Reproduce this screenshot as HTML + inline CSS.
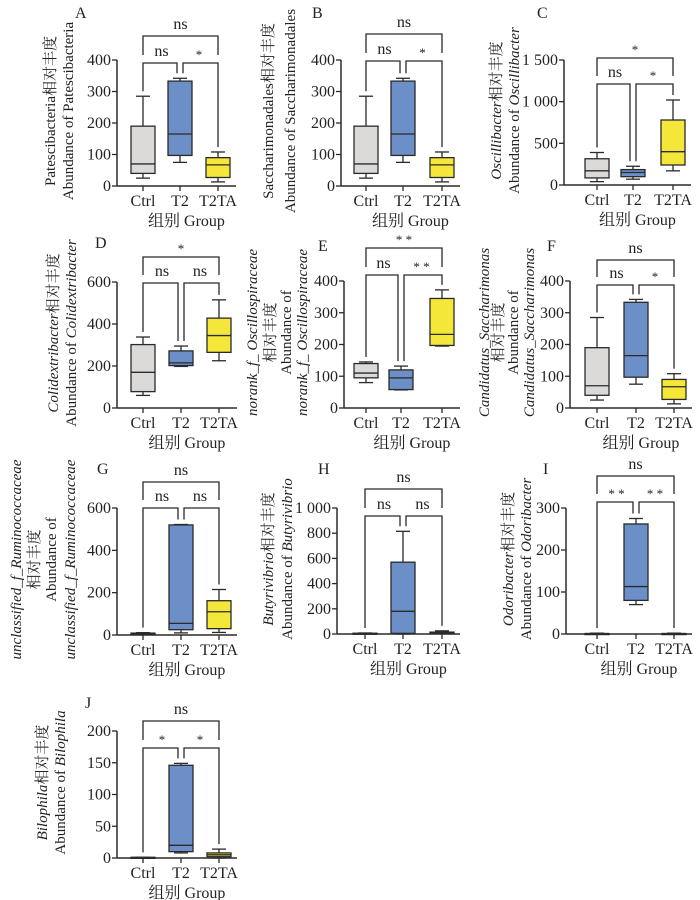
<!DOCTYPE html>
<html><head><meta charset="utf-8">
<style>
html,body{margin:0;padding:0;background:#fff;}
svg{display:block;font-family:"Liberation Serif","Noto Serif CJK SC","Noto Sans CJK SC",serif;}
</style></head>
<body>
<svg id="fig" width="700" height="900" viewBox="0 0 700 900" xmlns="http://www.w3.org/2000/svg"></svg>
<script>
const groups = ["Ctrl","T2","T2TA"];
const fills = ["#dcdad9","#6b8fc6","#f5e63a"];
// box stats: [min,q1,median,q3,max] for Ctrl, T2, T2TA
const statsA = [[25,40,70,190,285],[75,97,165,333,342],[13,27,67,90,108]];
const statsB = [[25,40,70,190,285],[75,97,165,333,342],[13,27,67,90,108]];
const statsC = [[40,85,170,315,390],[70,100,150,185,225],[170,240,400,780,1020]];
const statsD = [[60,78,170,302,338],[198,202,215,272,295],[225,265,345,428,515]];
const statsE = [[80,95,110,140,145],[57,58,95,120,132],[195,197,232,345,372]];
const statsF = [[25,40,70,190,285],[75,97,165,333,342],[13,27,67,90,108]];
const statsG = [[3,5,7,9,11],[10,25,55,520,522],[12,30,110,162,215]];
const statsH = [[0,2,4,6,8],[0,5,180,570,815],[2,5,10,15,25]];
const statsI = [[0,0,1,1,2],[70,80,113,262,275],[0,0,1,1,2]];
const statsJ = [[0,0,1,1,1],[8,10,20,146,149],[0,2,5,8,14]];
const ticks400 = [0,100,200,300,400];
const ticks1500 = [0,500,1000,1500];
const ticks600 = [0,200,400,600];
const ticks1000 = [0,200,400,600,800,1000];
const ticks300 = [0,100,200,300];
const ticks200 = [0,50,100,150,200];
// significance: [Ctrl-T2TA, Ctrl-T2, T2-T2TA]
const sigA=["ns","ns","*"], sigB=["ns","ns","*"], sigC=["*","ns","*"], sigD=["*","ns","ns"], sigE=["* *","ns","* *"];
const sigF=["ns","ns","*"], sigG=["ns","ns","ns"], sigH=["ns","ns","ns"], sigI=["ns","* *","* *"], sigJ=["ns","*","*"];

const panels = [
 {id:"A",lx:75,ly:12,ax:117,top:60,bot:186,cx:[143,180,218],ticks:ticks400,stats:statsA,sig:sigA,ub:36,lb:63,
  yl:[[["Patescibacteria相对丰度",0]],[["Abundance of Patescibacteria",0]]],ylx:[50,68]},
 {id:"B",lx:312,ly:12,ax:341,top:60,bot:186,cx:[366,403,442],ticks:ticks400,stats:statsB,sig:sigB,ub:34,lb:61,
  yl:[[["Saccharimonadales相对丰度",0]],[["Abundance of Saccharimonadales",0]]],ylx:[268,290]},
 {id:"C",lx:537,ly:12,ax:564,top:60,bot:185,cx:[597,633,673],ticks:ticks1500,stats:statsC,sig:sigC,ub:58,lb:84,
  yl:[[["Oscillibacter",1],["相对丰度",0]],[["Abundance of ",0],["Oscillibacter",1]]],ylx:[496,514]},
 {id:"D",lx:95,ly:242,ax:117,top:282,bot:408,cx:[143,181,219],ticks:ticks600,stats:statsD,sig:sigD,ub:257,lb:283,
  yl:[[["Colidextribacter",1],["相对丰度",0]],[["Abundance of ",0],["Colidextribacter",1]]],ylx:[53,71]},
 {id:"E",lx:318,ly:245,ax:344,top:281,bot:408,cx:[366,401,442],ticks:ticks400,stats:statsE,sig:sigE,ub:248,lb:275,
  yl:[[["norank_f_ Oscillospiraceae",1]],[["相对丰度",0]],[["Abundance of",0]],[["norank_f_ Oscillospiraceae",1]]],ylx:[252,270,286,302]},
 {id:"F",lx:547,ly:245,ax:570,top:281,bot:408,cx:[597,636,674],ticks:ticks400,stats:statsF,sig:sigF,ub:260,lb:285,
  yl:[[["Candidatus_Saccharimonas",1]],[["相对丰度",0]],[["Abundance of",0]],[["Candidatus_Saccharimonas",1]]],ylx:[484,498,513,529]},
 {id:"G",lx:97,ly:468,ax:117,top:508,bot:635,cx:[143,181,219],ticks:ticks600,stats:statsG,sig:sigG,ub:482,lb:508,
  yl:[[["unclassified_f_Ruminococcaceae",1]],[["相对丰度",0]],[["Abundance of",0]],[["unclassified_f_Ruminococcaceae",1]]],ylx:[16,34,51,70]},
 {id:"H",lx:318,ly:468,ax:337,top:508,bot:634,cx:[365,403,442],ticks:ticks1000,stats:statsH,sig:sigH,ub:489,lb:516,
  yl:[[["Butyrivibrio",1],["相对丰度",0]],[["Abundance of ",0],["Butyrivibrio",1]]],ylx:[268,287]},
 {id:"I",lx:543,ly:468,ax:566,top:508,bot:634,cx:[597,636,674],ticks:ticks300,stats:statsI,sig:sigI,ub:476,lb:502,
  yl:[[["Odoribacter",1],["相对丰度",0]],[["Abundance of ",0],["Odoribacter",1]]],ylx:[508,526]},
 {id:"J",lx:85,ly:702,ax:117,top:731,bot:858,cx:[143,181,219],ticks:ticks200,stats:statsJ,sig:sigJ,ub:721,lb:748,
  yl:[[["Bilophila",1],["相对丰度",0]],[["Abundance of ",0],["Bilophila",1]]],ylx:[42,60]}
];

const NS="http://www.w3.org/2000/svg";
const svg=document.getElementById("fig");
function mk(tag,attrs,parent){const e=document.createElementNS(NS,tag);for(const k in attrs)e.setAttribute(k,attrs[k]);(parent||svg).appendChild(e);return e;}
function fmt(v){return v>=1000?String(v).replace(/(\d)(\d{3})$/,"$1 $2"):String(v);}
const STK="#2a2a2a";

panels.forEach(p=>{
  const g=mk("g",{});
  
  
  const ymax=p.ticks[p.ticks.length-1];
  const y=v=>p.bot-(v/ymax)*(p.bot-p.top);
  const xend=p.cx[2]+18;
  const L=mk("text",{x:p.lx,y:p.ly+6,"font-size":16,fill:"#222"},g);L.textContent=p.id;
  
  
  const ya=mk("line",{x1:p.ax,y1:p.top,x2:p.ax,y2:p.bot,stroke:STK,"stroke-width":1.5},g);
  
  
  const xa=mk("line",{x1:p.ax,y1:p.bot,x2:xend,y2:p.bot,stroke:STK,"stroke-width":1.5},g);
  
  
  p.ticks.forEach(t=>{
    mk("line",{x1:p.ax-5,y1:y(t),x2:p.ax,y2:y(t),stroke:STK,"stroke-width":1.3},g);
    const tt=mk("text",{x:p.ax-6,y:y(t)+5,"font-size":16,"text-anchor":"end",fill:"#222"},g);
    tt.textContent=fmt(t);
    
    
  });
  groups.forEach((gn,i)=>{
    const cx=p.cx[i];
    mk("line",{x1:cx,y1:p.bot,x2:cx,y2:p.bot+5,stroke:STK,"stroke-width":1.3},g);
    const xt=mk("text",{x:cx,y:p.bot+20,"font-size":16,"text-anchor":"middle",fill:"#222"},g);
    xt.textContent=gn;
    
    
    const s=p.stats[i];const w=24,cw=7;
    const bg=mk("g",{},g);
    
    
    mk("line",{x1:cx,y1:y(s[0]),x2:cx,y2:y(s[4]),stroke:STK,"stroke-width":1.3},bg);
    mk("line",{x1:cx-cw,y1:y(s[0]),x2:cx+cw,y2:y(s[0]),stroke:STK,"stroke-width":1.3},bg);
    mk("line",{x1:cx-cw,y1:y(s[4]),x2:cx+cw,y2:y(s[4]),stroke:STK,"stroke-width":1.3},bg);
    mk("rect",{x:cx-w/2,y:y(s[3]),width:w,height:Math.max(1,y(s[1])-y(s[3])),fill:fills[i],stroke:STK,"stroke-width":1.3},bg);
    mk("line",{x1:cx-w/2,y1:y(s[2]),x2:cx+w/2,y2:y(s[2]),stroke:STK,"stroke-width":1.3},bg);
  });
  const xl=mk("text",{x:(p.ax+xend)/2+10,y:p.bot+40,"font-size":16,"text-anchor":"middle",fill:"#222"},g);
  xl.textContent="组别 Group";
  
  
  const cy=(p.top+p.bot)/2-12;
  p.yl.forEach((line,k)=>{
    const t=mk("text",{x:0,y:0,"font-size":15,"text-anchor":"middle",fill:"#222",transform:`translate(${p.ylx[k]+5},${cy}) rotate(-90)`},g);
    line.forEach(seg=>{const ts=mk("tspan",{"font-style":seg[1]?"italic":"normal"},t);ts.textContent=seg[0];});
    
    
  });
  const top=v=>y(v)-5;
  const c=p.cx, st=p.stats;
  const bk=mk("g",{fill:"none",stroke:STK,"stroke-width":1.3},g);
  
  
  const legU=p.lb-8;
  mk("polyline",{points:`${c[0]},${legU} ${c[0]},${p.ub} ${c[2]},${p.ub} ${c[2]},${legU}`},bk);
  mk("polyline",{points:`${c[0]},${top(st[0][4])} ${c[0]},${p.lb} ${c[1]-3},${p.lb} ${c[1]-3},${top(st[1][4])}`},bk);
  mk("polyline",{points:`${c[1]+3},${top(st[1][4])} ${c[1]+3},${p.lb} ${c[2]},${p.lb} ${c[2]},${top(st[2][4])}`},bk);
  const sp=[[(c[0]+c[2])/2,p.ub],[(c[0]+c[1])/2,p.lb],[(c[1]+c[2])/2,p.lb]];
  p.sig.forEach((s,k)=>{
    const star=s.indexOf("*")>=0;
    const t=mk("text",{x:sp[k][0],y:sp[k][1]-(star?4:7),"font-size":star?13:16,"text-anchor":"middle",fill:"#222"},g);
    t.textContent=s;
    
    
  });
});
</script>
</body></html>
